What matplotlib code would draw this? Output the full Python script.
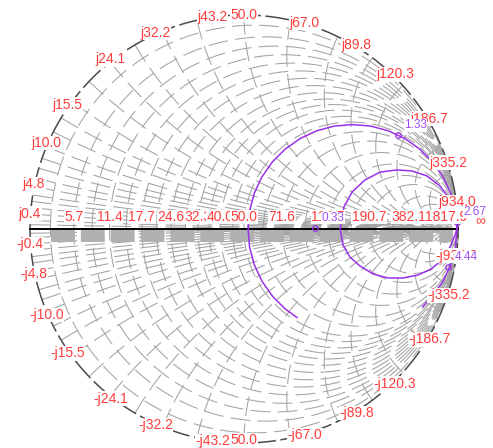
import numpy as np
import matplotlib.pyplot as plt

Z0 = 50.0

# reactance values (ohm) where the rim labels sit
rim_x = [0.4, 4.8, 10.0, 15.5, 24.1, 32.2, 43.2, 50.0, 67.0, 89.8, 120.3, 186.7, 335.2, 934.0]
rim_top = ["j0.4", "j4.8", "j10.0", "j15.5", "j24.1", "j32.2", "j43.2", "50.0",
           "j67.0", "j89.8", "j120.3", "j186.7", "j335.2", "j934.0"]
rim_bottom = ["-j0.4", "-j4.8", "-j10.0", "-j15.5", "-j24.1", "-j32.2", "-j43.2", "50.0",
              "-j67.0", "-j89.8", "-j120.3", "-j186.7", "-j335.2", "-j934.0"]

# resistance labels along the real axis (ohm)
axis_r = [5.7, 11.4, 17.7, 24.6, 32.3, 40.0, 50.0, 71.6, 114.7, 190.7, 382.1, 1817.9]
axis_text = ["5.7", "11.4", "17.7", "24.6", "32.3", "40.0", "50.0", "71.6",
             "114.7", "190.7", "382.1", "1817.9"]

# normalised grid circles
grid_r = [0.05, 0.114, 0.17, 0.228, 0.29, 0.354, 0.42, 0.492, 0.57, 0.646, 0.72, 0.8,
          0.9, 1.0, 1.2, 1.432, 1.8, 2.29, 3.0, 3.814, 5.5, 7.64, 15.0, 36.3]
grid_x = [0.01, 0.02, 0.035, 0.05, 0.065, 0.08, 0.1, 0.12, 0.145, 0.17, 0.2, 0.24,
          0.28, 0.33, 0.4, 0.48, 0.57, 0.67, 0.8, 1.0, 1.25, 1.6, 2.0, 2.6, 3.5, 5.0,
          7.5, 12.0, 25.0]

# measured trace (reflection coefficient)
big_re = [0.248, 0.193, 0.133, 0.084, 0.048, 0.026, 0.019, 0.026, 0.048, 0.084, 0.133,
          0.193, 0.263, 0.340, 0.422, 0.507, 0.592, 0.674, 0.751, 0.821, 0.881, 0.930,
          0.966, 0.988, 0.995, 0.988, 0.966, 0.930, 0.881, 0.834]
big_im = [-0.414, -0.374, -0.314, -0.244, -0.167, -0.085, 0.0, 0.085, 0.167, 0.244, 0.314,
          0.374, 0.423, 0.459, 0.481, 0.488, 0.481, 0.459, 0.423, 0.374, 0.314, 0.244,
          0.167, 0.085, 0.0, -0.085, -0.167, -0.244, -0.314, -0.363]
small_re = [0.991, 0.963, 0.916, 0.855, 0.785, 0.715, 0.636, 0.565, 0.505, 0.467, 0.449,
            0.463, 0.495, 0.542, 0.603, 0.673, 0.743, 0.813, 0.874, 0.925, 0.963, 0.986, 0.995]
small_im = [0.033, 0.136, 0.201, 0.248, 0.271, 0.276, 0.266, 0.229, 0.173, 0.103, 0.0,
            -0.075, -0.131, -0.173, -0.210, -0.229, -0.229, -0.215, -0.187, -0.145, -0.084,
            -0.028, 0.0]

marker_text = ["0.33", "1.33", "2.67", "4.44"]
marker_re = [0.332, 0.720, 0.995, 0.953]
marker_im = [0.005, 0.439, 0.033, -0.178]


def gamma(z):
    return (z - 1) / (z + 1)


PX = 214.0
fig = plt.figure(figsize=(4.93, 4.48), dpi=100)
ax = fig.add_axes([0, 0, 1, 1])
ax.set_xlim(-244 / PX, 249 / PX)
ax.set_ylim(-219 / PX, 229 / PX)
ax.set_aspect("equal")
ax.axis("off")

grey = "#a3a3a3"
dash = (0, (19, 7))

# constant resistance circles
t = np.linspace(0, 2 * np.pi, 400)
for r in grid_r:
    c, rad = r / (1 + r), 1 / (1 + r)
    ax.plot(c - rad * np.cos(t), rad * np.sin(t), color=grey, lw=0.75, ls=dash)

# constant reactance arcs
rs = np.concatenate([[0], np.logspace(-3, 3, 600)])
for x in grid_x:
    for s in (1, -1):
        g = gamma(rs + 1j * s * x)
        ax.plot(g.real, g.imag, color=grey, lw=0.75, ls=dash)

# shaded strip under the real axis
ax.plot([-0.902, 0.975], [-0.033, -0.033], color="#b0b0b0", lw=8.6,
        ls=(0, (2.0, 0.5)), dash_capstyle="butt")

# rim and real axis
ax.plot(np.cos(t), np.sin(t), color="#4a4a4a", lw=1.1, ls=(0, (16, 3)))
ax.plot([-1, 1], [0, 0], color="black", lw=1.4)

red = "#ff3c3c"
box = dict(facecolor="white", edgecolor="none", pad=0.3)
font = dict(family=["Liberation Sans", "DejaVu Sans"], fontsize=10)
for xv, top, bot in zip(rim_x, rim_top, rim_bottom):
    g = gamma(1j * xv / Z0)
    dy = (4 * abs(g.real) if xv > 1 else 12) / PX
    dy_bot = dy if xv != Z0 else -3 / PX
    ax.text(g.real, g.imag + dy, top, color=red, ha="center", va="center", bbox=box, **font)
    ax.text(g.real, -g.imag - dy_bot, bot, color=red, ha="center", va="center", bbox=box, **font)

for rv, s in zip(axis_r, axis_text):
    g = gamma(rv / Z0)
    ax.text(g.real, 12 / PX, s, color=red, ha="center", va="center", bbox=box, **font)
ax.text(1 + 22 / PX, 8 / PX, "\u221e", color=red, ha="center", va="center", bbox=box, **font)

# trace
purple = "#9b30e8"
ax.plot(big_re, big_im, color=purple, lw=1.1)
ax.plot(small_re, small_im, color=purple, lw=1.1)
ax.plot(marker_re, marker_im, ls="none", marker="o", ms=4, mfc="none", mec=purple, mew=0.9)
for s, xr, xi in zip(marker_text, marker_re, marker_im):
    ax.annotate(s, (xr, xi), xytext=(4.5, 7), textcoords="offset points", color="#a24cf5",
                ha="left", va="center", bbox=dict(facecolor="white", edgecolor="none", pad=0.2),
                family=["Liberation Sans", "DejaVu Sans"], fontsize=8.5)

fig.savefig("out.png", dpi=100, facecolor="white")
